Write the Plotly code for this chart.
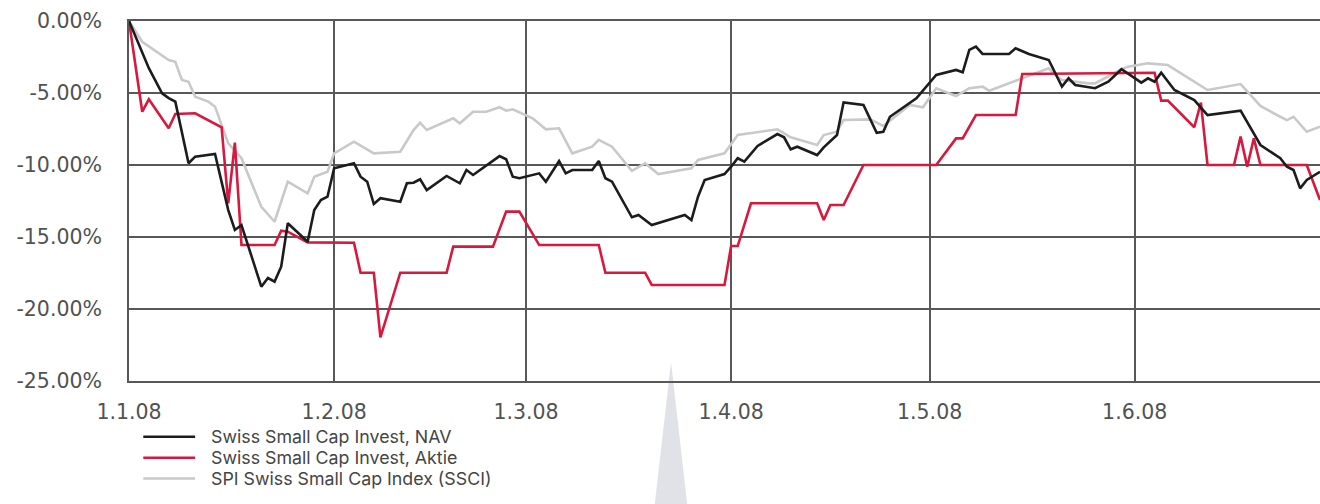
import plotly.graph_objects as go

# Swiss Small Cap Invest, NAV (performance since 1.1.08, in %)
nav_dates = [
    "2008-01-01", "2008-01-04", "2008-01-06", "2008-01-07", "2008-01-08", "2008-01-10",
    "2008-01-11", "2008-01-14", "2008-01-16", "2008-01-17", "2008-01-18", "2008-01-21",
    "2008-01-22", "2008-01-23", "2008-01-24", "2008-01-25", "2008-01-28", "2008-01-29",
    "2008-01-30", "2008-01-31", "2008-02-01", "2008-02-04", "2008-02-05", "2008-02-06",
    "2008-02-07", "2008-02-08", "2008-02-11", "2008-02-12", "2008-02-13", "2008-02-14",
    "2008-02-15", "2008-02-18", "2008-02-20", "2008-02-21", "2008-02-22", "2008-02-26",
    "2008-02-27", "2008-02-28", "2008-02-29", "2008-03-03", "2008-03-04", "2008-03-06",
    "2008-03-07", "2008-03-08", "2008-03-11", "2008-03-12", "2008-03-13", "2008-03-14",
    "2008-03-17", "2008-03-18", "2008-03-20", "2008-03-25", "2008-03-26", "2008-03-27",
    "2008-03-28", "2008-03-31", "2008-04-01", "2008-04-02", "2008-04-03", "2008-04-05",
    "2008-04-08", "2008-04-09", "2008-04-10", "2008-04-11", "2008-04-14", "2008-04-15",
    "2008-04-17", "2008-04-18", "2008-04-21", "2008-04-23", "2008-04-24", "2008-04-25",
    "2008-04-29", "2008-05-01", "2008-05-02", "2008-05-05", "2008-05-06", "2008-05-07",
    "2008-05-08", "2008-05-09", "2008-05-13", "2008-05-14", "2008-05-16", "2008-05-19",
    "2008-05-21", "2008-05-22", "2008-05-23", "2008-05-26", "2008-05-28", "2008-05-30",
    "2008-06-02", "2008-06-03", "2008-06-04", "2008-06-05", "2008-06-07", "2008-06-10",
    "2008-06-12", "2008-06-17", "2008-06-19", "2008-06-20", "2008-06-23", "2008-06-24",
    "2008-06-25", "2008-06-26", "2008-06-27", "2008-06-29",
]
nav_values = [
    0.00, -3.28, -5.02, -5.35, -5.60, -9.88,
    -9.42, -9.24, -13.13, -14.51, -14.17, -18.45,
    -17.85, -18.10, -17.06, -14.05, -15.33, -13.13,
    -12.43, -12.20, -10.23, -9.88, -10.81, -11.16,
    -12.71, -12.31, -12.55, -11.27, -11.23, -10.99,
    -11.74, -10.76, -11.27, -10.35, -10.69, -9.38,
    -9.60, -10.81, -10.92, -10.58, -11.16, -9.72,
    -10.58, -10.35, -10.35, -9.72, -10.92, -11.16,
    -13.63, -13.47, -14.17, -13.47, -13.82, -12.20,
    -11.04, -10.63, -10.12, -9.53, -9.77, -8.68,
    -7.85, -8.08, -8.91, -8.73, -9.31, -8.77,
    -7.92, -5.65, -5.83, -7.76, -7.69, -6.65,
    -5.37, -4.33, -3.75, -3.40, -3.56, -2.01,
    -1.78, -2.29, -2.29, -1.90, -2.29, -2.71,
    -4.56, -3.98, -4.44, -4.67, -4.22, -3.35,
    -4.28, -3.98, -4.22, -3.59, -4.79, -5.49,
    -6.53, -6.23, -7.80, -8.61, -9.53, -10.12,
    -10.35, -11.62, -11.04, -10.47,
]

# Swiss Small Cap Invest, Aktie
share_dates = [
    "2008-01-01", "2008-01-03", "2008-01-04", "2008-01-07", "2008-01-08", "2008-01-11",
    "2008-01-15", "2008-01-16", "2008-01-17", "2008-01-18", "2008-01-23", "2008-01-24",
    "2008-01-25", "2008-01-28", "2008-02-04", "2008-02-05", "2008-02-07", "2008-02-08",
    "2008-02-11", "2008-02-18", "2008-02-19", "2008-02-25", "2008-02-27", "2008-02-29",
    "2008-03-03", "2008-03-12", "2008-03-13", "2008-03-19", "2008-03-20", "2008-03-31",
    "2008-04-01", "2008-04-02", "2008-04-04", "2008-04-14", "2008-04-15", "2008-04-16",
    "2008-04-18", "2008-04-21", "2008-05-02", "2008-05-05", "2008-05-06", "2008-05-08",
    "2008-05-14", "2008-05-15", "2008-06-04", "2008-06-05", "2008-06-06", "2008-06-10",
    "2008-06-11", "2008-06-12", "2008-06-16", "2008-06-17", "2008-06-18", "2008-06-19",
    "2008-06-20", "2008-06-27", "2008-06-29",
]
share_values = [
    0.00, -6.30, -5.44, -7.45, -6.46, -6.41,
    -7.38, -12.66, -8.45, -15.56, -15.56, -14.56,
    -14.63, -15.37, -15.40, -17.48, -17.48, -21.97,
    -17.48, -17.48, -15.67, -15.67, -13.24, -13.24,
    -15.56, -15.56, -17.48, -17.48, -18.33, -18.33,
    -15.63, -15.63, -12.66, -12.66, -13.82, -12.78,
    -12.78, -10.00, -10.00, -8.15, -8.15, -6.53,
    -6.53, -3.68, -3.59, -5.53, -5.53, -7.38,
    -5.67, -10.00, -10.00, -8.03, -10.12, -8.15,
    -10.00, -10.00, -12.43,
]

# SPI Swiss Small Cap Index (SSCI)
index_dates = [
    "2008-01-01", "2008-01-03", "2008-01-07", "2008-01-08", "2008-01-09", "2008-01-10",
    "2008-01-11", "2008-01-13", "2008-01-14", "2008-01-16", "2008-01-18", "2008-01-21",
    "2008-01-23", "2008-01-25", "2008-01-28", "2008-01-29", "2008-01-31", "2008-02-01",
    "2008-02-04", "2008-02-07", "2008-02-11", "2008-02-13", "2008-02-14", "2008-02-15",
    "2008-02-19", "2008-02-20", "2008-02-22", "2008-02-24", "2008-02-26", "2008-02-27",
    "2008-02-28", "2008-03-02", "2008-03-04", "2008-03-06", "2008-03-08", "2008-03-11",
    "2008-03-12", "2008-03-14", "2008-03-17", "2008-03-19", "2008-03-21", "2008-03-26",
    "2008-03-27", "2008-03-31", "2008-04-02", "2008-04-08", "2008-04-10", "2008-04-14",
    "2008-04-15", "2008-04-17", "2008-04-18", "2008-04-22", "2008-04-24", "2008-04-26",
    "2008-04-28", "2008-04-30", "2008-05-02", "2008-05-05", "2008-05-07", "2008-05-09",
    "2008-05-10", "2008-05-19", "2008-05-20", "2008-05-21", "2008-05-25", "2008-05-26",
    "2008-05-30", "2008-05-31", "2008-06-03", "2008-06-06", "2008-06-10", "2008-06-12",
    "2008-06-17", "2008-06-20", "2008-06-23", "2008-06-24", "2008-06-25", "2008-06-27",
    "2008-06-29",
]
index_values = [
    0.00, -1.44, -2.71, -2.83, -4.10, -4.22,
    -5.26, -5.60, -5.95, -8.49, -9.53, -12.90,
    -13.94, -11.16, -11.97, -10.81, -10.47, -9.19,
    -8.38, -9.19, -9.08, -7.57, -7.06, -7.57,
    -6.76, -7.10, -6.30, -6.30, -5.99, -6.23,
    -6.13, -6.76, -7.52, -7.45, -9.19, -8.73,
    -8.26, -8.73, -10.40, -9.88, -10.63, -10.23,
    -9.65, -9.19, -7.92, -7.52, -8.08, -8.61,
    -7.92, -7.69, -6.88, -6.83, -7.29, -6.53,
    -5.83, -5.99, -4.67, -5.21, -4.67, -4.56,
    -4.84, -3.28, -3.75, -4.10, -4.33, -4.33,
    -3.35, -3.17, -2.94, -3.06, -4.22, -4.79,
    -4.38, -5.90, -6.65, -6.88, -6.65, -7.69,
    -7.34,
]

series_names = [
    "Swiss Small Cap Invest, NAV",
    "Swiss Small Cap Invest, Aktie",
    "SPI Swiss Small Cap Index (SSCI)",
]
series_colors = ["#1c1c1c", "#d7193f", "#c9c9c9"]

month_ticks = ["2008-01-01", "2008-02-01", "2008-03-01", "2008-04-01", "2008-05-01", "2008-06-01"]
month_labels = ["1.1.08", "1.2.08", "1.3.08", "1.4.08", "1.5.08", "1.6.08"]
pct_ticks = [0, -5, -10, -15, -20, -25]
pct_labels = ["0.00%", "-5.00%", "-10.00%", "-15.00%", "-20.00%", "-25.00%"]

TICK_FONT = "'DejaVu Sans', Inter, sans-serif"
LEGEND_FONT = "Inter, Lato, sans-serif"
TEXT = "#454545"
GRID = "#585858"

fig = go.Figure()
# grey index first so the fund lines sit on top
for dates, values, name, color in [
    (index_dates, index_values, series_names[2], series_colors[2]),
    (share_dates, share_values, series_names[1], series_colors[1]),
    (nav_dates, nav_values, series_names[0], series_colors[0]),
]:
    fig.add_trace(go.Scatter(
        x=dates, y=values, name=name, mode="lines",
        line=dict(color=color, width=2.6),
        showlegend=False, hoverinfo="x+y+name",
    ))

fig.update_xaxes(
    type="date", range=["2008-01-01", "2008-06-29"],
    tickvals=month_ticks, ticktext=month_labels,
    showgrid=True, gridcolor=GRID, gridwidth=1.6,
    showline=True, linecolor=GRID, linewidth=1.8, mirror=True,
    ticks="", ticklabelstandoff=11,
    tickfont=dict(family=TICK_FONT, size=20.5, color="#525252"),
    zeroline=False,
)
fig.update_yaxes(
    range=[-25, 0], tickvals=pct_ticks, ticktext=pct_labels,
    showgrid=True, gridcolor=GRID, gridwidth=1.6,
    showline=True, linecolor=GRID, linewidth=1.8,
    ticks="", ticklabelstandoff=21,
    tickfont=dict(family=TICK_FONT, size=20.5, color="#525252"),
    zeroline=False,
)

# hand-built legend below the axis
legend_rows = [-0.155, -0.213, -0.271]
shapes = []
annotations = []
for row_y, name, color in zip(legend_rows, series_names, series_colors):
    shapes.append(dict(type="line", xref="paper", yref="paper",
                       x0=0.012, x1=0.0555, y0=row_y, y1=row_y,
                       line=dict(color=color, width=2.6)))
    annotations.append(dict(xref="paper", yref="paper", x=0.068, y=row_y,
                            xanchor="left", yanchor="middle", showarrow=False,
                            borderpad=0,
                            text=name, font=dict(family=LEGEND_FONT, size=17.8, color=TEXT)))

# decorative grey spike under the chart
shapes.append(dict(type="path", xref="paper", yref="paper", layer="below",
                   path="M 0.4551 0.0528 L 0.4408 -0.36 L 0.4693 -0.36 Z",
                   fillcolor="#e1e2e7", line=dict(width=0)))

fig.update_layout(
    width=1320, height=504,
    margin=dict(l=129, r=0, t=21, b=123),
    paper_bgcolor="white", plot_bgcolor="white",
    shapes=shapes, annotations=annotations,
    showlegend=False,
)

fig.write_html("out.html")
